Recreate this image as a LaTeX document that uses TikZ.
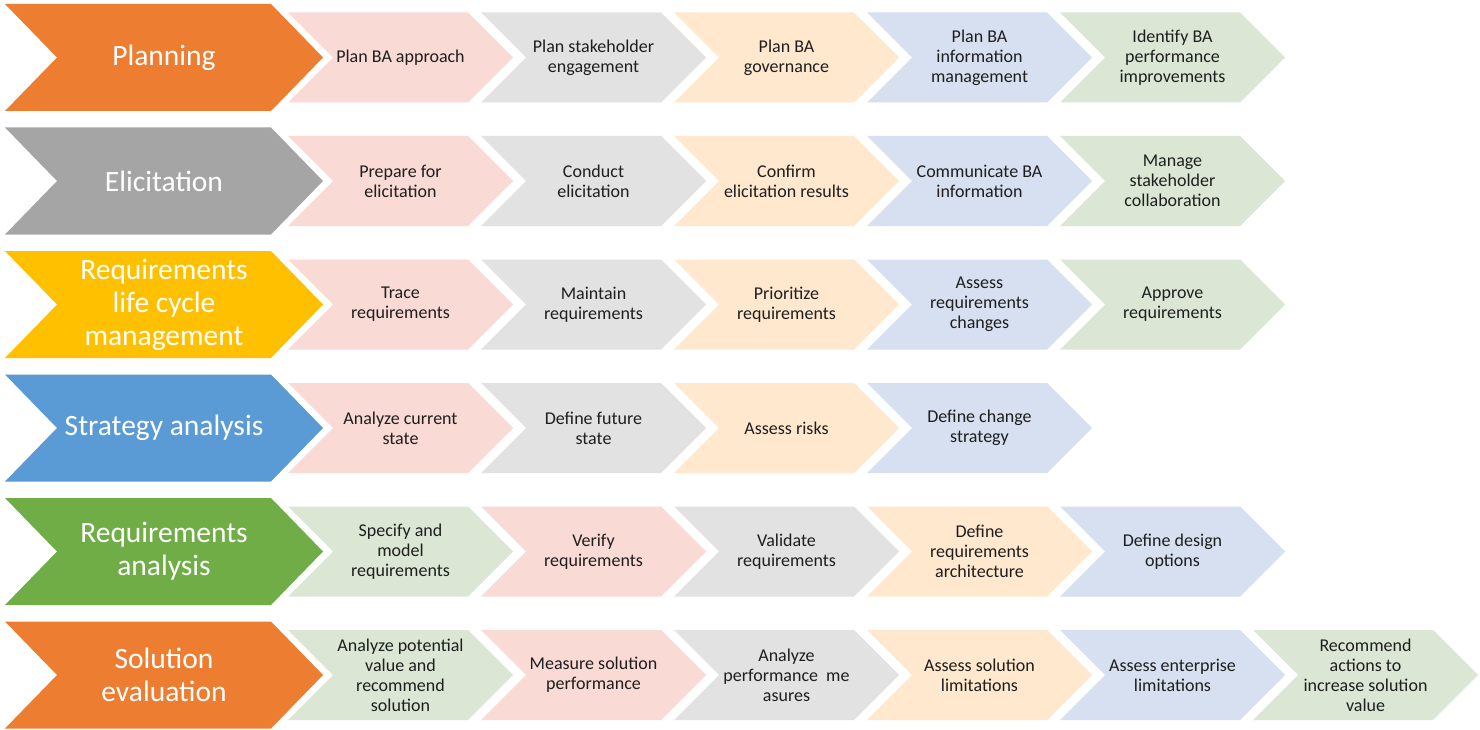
\documentclass[tikz,border=0pt]{standalone}
\usepackage{fontspec}
\setmainfont{Carlito}
\definecolor{corange}{HTML}{ED7D31}
\definecolor{cgray}{HTML}{A5A5A5}
\definecolor{cyellow}{HTML}{FFC000}
\definecolor{cblue}{HTML}{5B9BD5}
\definecolor{cgreen}{HTML}{70AD47}
\definecolor{lpink}{RGB}{249,218,212}
\definecolor{lgray}{RGB}{226,226,226}
\definecolor{lpeach}{RGB}{255,232,206}
\definecolor{lblue}{RGB}{214,224,240}
\definecolor{lgreen}{RGB}{219,231,212}
\definecolor{ctext}{RGB}{30,30,30}
\tikzset{
  bigtext/.style={text=white, align=center, font=\fontsize{29.5}{33}\selectfont, inner sep=0pt},
  smalltext/.style={text=ctext, align=center, font=\fontsize{18}{20}\selectfont, inner sep=0pt},
}
\newcommand\bigchev[4]{% name, yc, color, text
  \fill[#3] (5,#2-53.5) -- ++(266,0) -- ++(52,53.5) -- ++(-52,53.5) -- ++(-266,0) -- ++(52,-53.5) -- cycle;
  \node[bigtext] (#1) at (164,#2) {#4};}
\newcommand\smchev[5]{% name, x0, yc, color, text
  \fill[#4] (#2,#3-45) -- ++(180,0) -- ++(45,45) -- ++(-45,45) -- ++(-180,0) -- ++(45,-45) -- cycle;
  \node[smalltext] (#1) at (#2+112.5,#3) {#5};}
\begin{document}
\begin{tikzpicture}[x=1pt,y=-1pt]
\useasboundingbox[fill=white] (0,0) rectangle (1480,730);
% Row 1
\bigchev{p0}{57.5}{corange}{Planning}
\smchev{p1}{288}{57.5}{lpink}{Plan BA approach}
\smchev{p2}{481}{57.5}{lgray}{Plan stakeholder\\engagement}
\smchev{p3}{674}{57.5}{lpeach}{Plan BA\\governance}
\smchev{p4}{867}{57.5}{lblue}{Plan BA\\information\\management}
\smchev{p5}{1060}{57.5}{lgreen}{Identify BA\\performance\\improvements}
% Row 2
\bigchev{e0}{181}{cgray}{Elicitation}
\smchev{e1}{288}{181}{lpink}{Prepare for\\elicitation}
\smchev{e2}{481}{181}{lgray}{Conduct\\elicitation}
\smchev{e3}{674}{181}{lpeach}{Confirm\\elicitation results}
\smchev{e4}{867}{181}{lblue}{Communicate BA\\information}
\smchev{e5}{1060}{181}{lgreen}{Manage\\stakeholder\\collaboration}
% Row 3
\bigchev{l0}{304.5}{cyellow}{Requirements\\life cycle\\management}
\smchev{l1}{288}{304.5}{lpink}{Trace\\requirements}
\smchev{l2}{481}{304.5}{lgray}{Maintain\\requirements}
\smchev{l3}{674}{304.5}{lpeach}{Prioritize\\requirements}
\smchev{l4}{867}{304.5}{lblue}{Assess\\requirements\\changes}
\smchev{l5}{1060}{304.5}{lgreen}{Approve\\requirements}
% Row 4
\bigchev{s0}{428}{cblue}{Strategy analysis}
\smchev{s1}{288}{428}{lpink}{Analyze current\\state}
\smchev{s2}{481}{428}{lgray}{Define future\\state}
\smchev{s3}{674}{428}{lpeach}{Assess risks}
\smchev{s4}{867}{428}{lblue}{Define change\\strategy}
% Row 5
\bigchev{a0}{551.5}{cgreen}{Requirements\\analysis}
\smchev{a1}{288}{551.5}{lgreen}{Specify and\\model\\requirements}
\smchev{a2}{481}{551.5}{lpink}{Verify\\requirements}
\smchev{a3}{674}{551.5}{lgray}{Validate\\requirements}
\smchev{a4}{867}{551.5}{lpeach}{Define\\requirements\\architecture}
\smchev{a5}{1060}{551.5}{lblue}{Define design\\options}
% Row 6
\bigchev{v0}{675}{corange}{Solution\\evaluation}
\smchev{v1}{288}{675}{lgreen}{Analyze potential\\value and\\recommend\\solution}
\smchev{v2}{481}{675}{lpink}{Measure solution\\performance}
\smchev{v3}{674}{675}{lgray}{Analyze\\performance\ \ me\\asures}
\smchev{v4}{867}{675}{lpeach}{Assess solution\\limitations}
\smchev{v5}{1060}{675}{lblue}{Assess enterprise\\limitations}
\smchev{v6}{1253}{675}{lgreen}{Recommend\\actions to\\increase solution\\value}
\end{tikzpicture}
\end{document}
